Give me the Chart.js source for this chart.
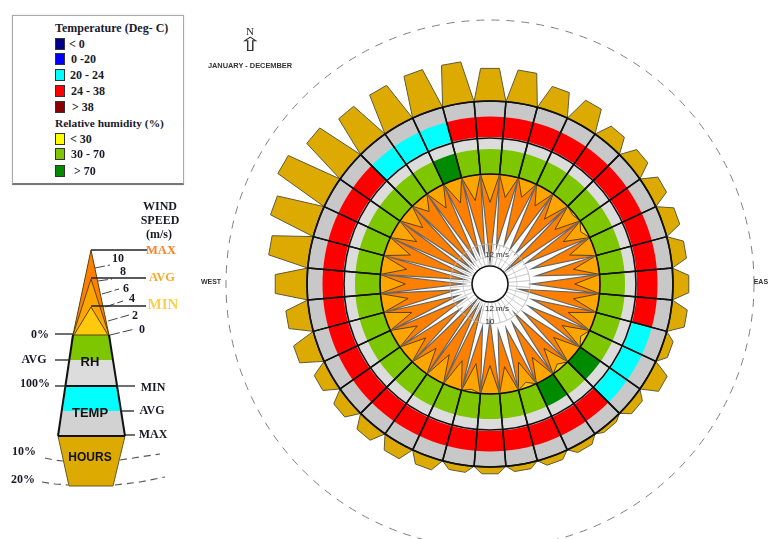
<!DOCTYPE html>
<html>
<head>
<meta charset="utf-8">
<script src="https://cdn.jsdelivr.net/npm/chart.js@4/dist/chart.umd.min.js"></script>
<style>
html,body{margin:0;padding:0;width:768px;height:539px;overflow:hidden;background:#fff}
canvas{position:absolute}
.t{position:absolute;transform:translate(-50%,-50%);white-space:nowrap;color:#1a1a2a}
.s{font:bold 12px "Liberation Serif",serif}
.a{font:bold 13px "Liberation Sans",sans-serif;color:#111}
.c{font:bold 7.4px "Liberation Sans",sans-serif;color:#333}
.m{font:8px "Liberation Sans",sans-serif;color:#333}
.sw{position:absolute;width:8px;height:10px;border:1px solid #333}
#box{position:absolute;left:12px;top:15px;width:170px;height:167px;border:1px solid #aaa;border-bottom:2px solid #777;box-shadow:0 0 2px #ddd}
</style>
</head>
<body>
<div id="box"></div>
<canvas id="rose" width="600" height="600" style="left:190px;top:-16px;width:600px;height:600px"></canvas>
<canvas id="key" width="200" height="320" style="left:0;top:190px;width:200px;height:320px"></canvas>
<div id="texts"></div>
<script>
// ---- data, one value per compass direction, clockwise from north in 10 degree steps ----
const directions = [0,10,20,30,40,50,60,70,80,90,100,110,120,130,140,150,160,170,180,190,200,210,220,230,240,250,260,270,280,290,300,310,320,330,340,350];
const hoursPct = [8,8,5.9,5.9,3.9,3.9,3.9,3.9,3.7,3.9,3.9,2.2,4.1,2.2,1,1.7,1.7,1.5,1.7,1.7,2.9,3.4,3.4,3.4,3.7,5.6,5.6,7.8,9.8,11.5,13.7,11.7,10,10,10.2,10];
const windMax = [11.5,9.4,8.9,9.1,9.1,11.5,8.9,8.5,8.2,8.9,10.4,8.5,8.5,8.6,9.4,8.5,8.2,8.2,9.6,8.7,11,11.2,11.6,9.3,10.4,9.9,9.9,10.8,11,11,11.1,11,10.8,10.4,10.2,10.4];
const windAvg = [3.7,2.9,2.3,2.6,3.3,3.3,3.3,3.3,3.3,3.3,3.3,3.5,3.5,3.5,3.4,3.3,3.5,3.4,3.7,3.8,3.7,3.7,3.4,3.4,3.4,3.5,3.5,3.3,3.3,3.3,3.3,2.9,2,2.9,3.1,3.3];
const windMin = [0,0,0,0,0,0.3,0.7,0,0,0,0,0,0.7,0,0.7,0,0.7,0,0,0.4,0,0,0,0,0,0,0,0,0,0,0,0,0,0,0,0];
const tempBand = ['24-38','24-38','24-38','24-38','24-38','24-38','24-38','24-38','24-38','24-38','24-38','20-24','20-24','20-24','24-38','24-38','24-38','24-38','24-38','24-38','24-38','24-38','24-38','24-38','24-38','24-38','24-38','24-38','24-38','24-38','24-38','24-38','20-24','20-24','20-24','24-38'];
const rhBand = ['30-70','30-70','30-70','30-70','30-70','30-70','30-70','30-70','30-70','30-70','30-70','30-70','30-70','>70','30-70','>70','30-70','30-70','30-70','30-70','30-70','30-70','30-70','30-70','30-70','30-70','30-70','30-70','30-70','30-70','30-70','30-70','30-70','30-70','>70','30-70'];
const tempLegend = [['< 0','#00008b'],['0 -20','#0000ff'],['20 - 24','#00ffff'],['24 - 38','#ff0000'],['> 38','#8b0000']];
const rhLegend = [['< 30','#ffff00'],['30 - 70','#7dc600'],['> 70','#008a00']];

// ---- ring geometry of the rose, in scale units ----
const R = {hub:18, grid1:27, grid2:40, wind:110, rhOut:135, rhBack:146, tempIn:147, tempOut:167.5, base:183, dash:264, hoursScale:4.1, windScale:7.67};
const tempColor = {'20-24':'#00ffff','24-38':'#ff0000'};
const rhColor = {'30-70':'#7dc600','>70':'#008a00'};
const faint = 'rgba(185,185,185,0.6)';
const subdiv = 4;                        // radial index positions per direction
const indexLabels = [];
directions.forEach(d => { for (let j=0;j<subdiv;j++) indexLabels.push(String(d)+'.'+j); });

const same = v => directions.map(() => v);
function arc(values, colors, order, border, width){
  return {type:'polarArea', data:values, backgroundColor:colors, borderColor:border||'transparent', borderWidth:width||0, order};
}
function outline(pointsFor, fill, line, width, order){
  const data = [];
  directions.forEach((d,k) => { const p = pointsFor(k); data.push(p[0],p[1],p[2],p[3]); });
  return {type:'radar', data, backgroundColor:fill, borderColor:line, borderWidth:width, fill:'origin', spanGaps:true, pointRadius:0, pointHoverRadius:0, tension:0, order};
}
const star = speeds => k => [R.wind, null, R.wind - speeds[k]*R.windScale, null];
const hoursShape = k => { const r = R.base + hoursPct[k]*R.hoursScale; return [R.base, r, null, r]; };

new Chart(document.getElementById('rose'), {
  type:'polarArea',
  data:{labels:indexLabels, datasets:[
    outline(hoursShape,'#dcaa00','#5f5a3a',1,20),
    arc(same(R.base),'#c8c8c8',19),
    arc(same(R.tempOut),tempBand.map(b=>tempColor[b]),18),
    arc(same(R.tempIn),'#dcdcdc',17),
    arc(same(R.rhOut),rhBand.map(b=>rhColor[b]),16),
    arc(same(R.base),'transparent',15,'#111',1.5),
    arc(same(R.wind),'#ffc90e',14),
    outline(star(windMin),'#ffa500','#5a4210',1,13),
    outline(star(windAvg),'#ff8000','#5a4210',1,12),
    outline(star(windMax),'#ffffff','#666666',1.2,11),
    arc(same(R.grid2),'transparent',10,faint,0.8),
    arc(same(R.hub),'#ffffff',9,'#ffffff',1.5)
  ]},
  options:{
    responsive:false, animation:false, devicePixelRatio:1,
    layout:{padding:0},
    plugins:{legend:{display:false},tooltip:{enabled:false}},
    scales:{r:{
      type:'radialLinear', min:0, max:300, startAngle:-5,
      afterBuildTicks: s => { s.ticks = [0,R.hub,R.grid1,R.grid2,R.wind,R.rhBack,R.base,R.dash].map(v=>({value:v})); },
      ticks:{display:false},
      pointLabels:{display:false},
      angleLines:{display:false},
      grid:{
        z:1, circular:true,
        color: c => { const v=c.tick.value; return v===R.dash?'#808080':(v===R.grid1||v===R.grid2)?faint:'#111'; },
        lineWidth: c => { const v=c.tick.value; return v===R.dash?1:(v===R.grid1||v===R.grid2)?1:1.6; }
      },
      border:{dash: c => c.tick && c.tick.value===R.dash ? [8,7] : []}
    }}
  }
});

// ---- explanatory key at the left, plotted on a plain xy scale ----
const keyMax = [[91,250],[109,335],[73,335]];
const keyAvg = [[91,279],[109,335],[73,335]];
const keyMin = [[91,307],[108,335],[74,335]];
const keyRh = [[72,335],[110,335],[112,360],[70,360]];
const keyRhGray = [[70,360],[112,360],[117,386],[66,386]];
const keyTemp = [[66,386],[117,386],[120,411],[63,411]];
const keyTempGray = [[63,411],[120,411],[125,436],[58,436]];
const keyHours = [[58,436],[125,436],[113,486],[69,486]];
const keySideLeft = [[73,335],[58,436]];
const keySideRight = [[109,335],[125,436]];
const keyCross = [[[58,436],[125,436]],[[66,386],[117,386]]];
const keyLeaders = [[[91,250],[147,250]],[[91,278],[146,278]],[[91,306],[146,306]],[[55,334],[73,334]],[[55,360],[70,360]],[[55,386],[66,386]],[[117,386],[135,386]],[[120,411],[134,411]],[[125,435],[135,435]]];
const keyTicks = [[[95,268],[110,265]],[[98,281],[112,279]],[[102,294],[119,289]],[[105,307],[123,301]],[[108,321],[129,315]],[[110,335],[135,329]]];
const keyDashes = [[[45,458],[54,460],[63,461]],[[120,460],[140,457],[160,454]],[[42,482],[55,484],[68,485]],[[115,485],[140,482],[165,477]]];

const toXY = a => a.map(p=>({x:p[0],y:p[1]}));
const poly = (a,color,order) => ({data:toXY(a),showLine:true,fill:'shape',backgroundColor:color,borderColor:color,borderWidth:0,pointRadius:0,tension:0,order});
const seg = (a,color,w,order,dash) => ({data:toXY(a),showLine:true,fill:false,borderColor:color,borderWidth:w,borderDash:dash||[],pointRadius:0,tension:0,order});

new Chart(document.getElementById('key'), {
  type:'scatter',
  data:{datasets:[
    poly(keyHours,'#dcaa00',10), poly(keyTempGray,'#d2d2d2',10), poly(keyTemp,'#00ffff',10),
    poly(keyRhGray,'#dcdcdc',10), poly(keyRh,'#7dc600',10),
    poly(keyMax,'#ff8000',9), poly(keyAvg,'#ffa500',8), poly(keyMin,'#ffc90e',7),
    seg(keyMax.concat([keyMax[0]]),'#5a4210',1,6), seg(keyAvg.slice(0,2),'#5a4210',1,6), seg([keyAvg[0],keyAvg[2]],'#5a4210',1,6),
    seg(keyMin.slice(0,2),'#5a4210',1,6), seg([keyMin[0],keyMin[2]],'#5a4210',1,6),
    seg(keySideLeft,'#111',2,5), seg(keySideRight,'#111',2,5),
    seg(keyHours.concat([keyHours[0]]),'#665a20',1,5),
    ...keyCross.map(a=>seg(a,'#111',2,4)),
    ...keyLeaders.map(a=>seg(a,'#222',1.3,3)),
    ...keyTicks.map(a=>seg(a,'#444',1,3,[10,3])),
    ...keyDashes.map(a=>seg(a,'#555',1.2,3,[7,5]))
  ]},
  options:{
    responsive:false, animation:false, devicePixelRatio:1,
    layout:{padding:0},
    plugins:{legend:{display:false},tooltip:{enabled:false}},
    scales:{
      x:{type:'linear',min:0,max:200,display:false},
      y:{type:'linear',min:190,max:510,reverse:true,display:false}
    }
  }
});

// ---- real text ----
const host = document.getElementById('texts');
function label(t,x,y,cls,extra){
  const e=document.createElement('div'); e.className='t '+cls; e.textContent=t;
  e.style.left=x+'px'; e.style.top=y+'px'; if(extra) e.style.cssText+=';'+extra; host.appendChild(e);
}
function leftLabel(t,x,y,extra){ label(t,x,y,'s','transform:translate(0,-50%);'+(extra||'')); }
function swatch(c,x,y){ const e=document.createElement('div'); e.className='sw'; e.style.left=x+'px'; e.style.top=(y-6)+'px'; e.style.background=c; host.appendChild(e); }

leftLabel('Temperature (Deg- C)',55,28);
const tempY=[44,59,75,91,107], tempX=[69,71,70,71,72];
tempLegend.forEach((r,i)=>{ swatch(r[1],55,tempY[i]); leftLabel(r[0],tempX[i],tempY[i]); });
leftLabel('Relative humidity (%)',55,123,'font-size:11.4px');
const rhY=[139,154,171], rhX=[70,71,74];
rhLegend.forEach((r,i)=>{ swatch(r[1],55,rhY[i]); leftLabel(r[0],rhX[i],rhY[i]); });

label('WIND',160,206,'s'); label('SPEED',160,220,'s'); label('(m/s)',159,234,'s');
label('MAX',161,250,'s','color:#ff7f27;font-size:12.5px');
label('AVG',162,277,'s','color:#ffa726;font-size:12.5px');
label('MIN',163,304,'s','color:#ffcf4a;font-size:15px');
[['10',118,258],['8',123,271],['6',126,288],['4',132,298],['2',135,315],['0',142,329]].forEach(a=>label(a[0],a[1],a[2],'s'));
label('0%',40,334,'s'); label('AVG',34,359,'s'); label('100%',35,383,'s');
label('MIN',153,387,'s'); label('AVG',152,410,'s'); label('MAX',153,434,'s');
label('10%',24,451,'s'); label('20%',23,479,'s');
label('RH',90,361,'a'); label('TEMP',90,412,'a'); label('HOURS',90,457,'a','font-size:12px');

label('N',250,31,'s','font-size:11px;font-weight:normal');
label('\u21E7',250,44,'a','font:20px "DejaVu Sans",sans-serif;color:#333;transform:translate(-50%,-50%) scale(1.5,0.95)');
label('JANUARY - DECEMBER',250,65,'c');
label('WEST',211,281,'c','font-size:7px'); label('EAST',763,281,'c','font-size:7px');
label('12 m/s',497,254,'m'); label('12 m/s',497,308,'m'); label('10',490,321,'m');
</script>
</body>
</html>
